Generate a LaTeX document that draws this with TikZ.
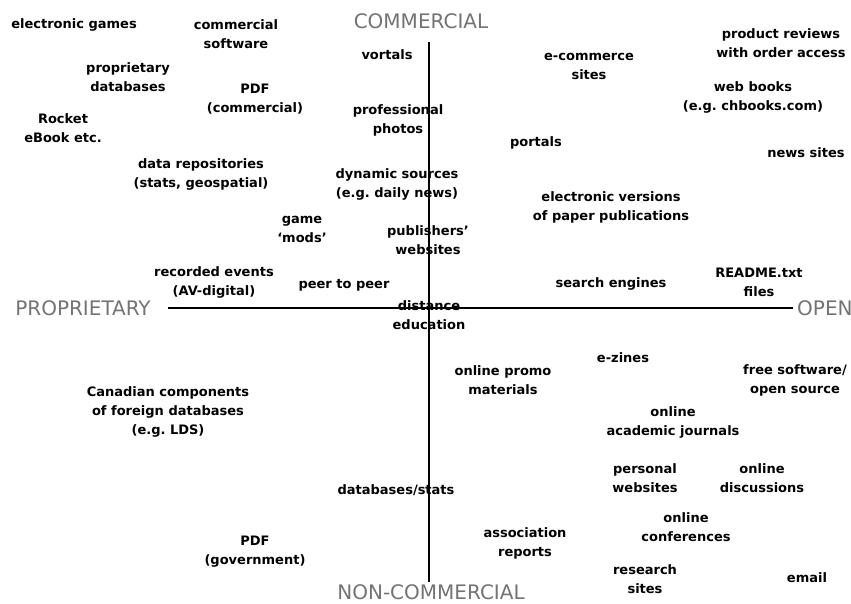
\documentclass[tikz,border=0pt]{standalone}
\usepackage{fontspec}
\setmainfont{DejaVu Sans}

\begin{document}
\begin{tikzpicture}[x=1pt,y=-1pt,
    item/.style={font=\bfseries\fontsize{13}{19}\selectfont,align=center,inner sep=1pt},
    axislabel/.style={font=\fontsize{20}{24}\selectfont,text=black!55,inner sep=1pt},
    axis/.style={line width=1.6pt}]
\useasboundingbox (0,0) rectangle (851,603);

% axis labels
\node[axislabel] (comm)    at (421,21)  {COMMERCIAL};
\node[axislabel] (noncomm) at (431,592) {NON-COMMERCIAL};
\node[axislabel] (prop)    at (83,308)  {PROPRIETARY};
\node[axislabel,anchor=west] (open) at (796,308) {OPEN};
\coordinate (o) at (429,308);

\draw[axis,shorten <=16pt,shorten >=3pt] (prop) -- (open);
\draw[axis,shorten <=12pt,shorten >=1pt] (comm.south -| o) -- (noncomm.north -| o);

% proprietary / commercial
\node[item] (elgames)  at (74,25)   {electronic games};
\node[item] (comsoft)  at (236,34)  {commercial\\software};
\node[item] (propdb)   at (128,77)  {proprietary\\databases};
\node[item] (pdfcom)   at (255,99)  {PDF\\(commercial)};
\node[item] (rocket)   at (63,128)  {Rocket\\eBook etc.};
\node[item] (datarep)  at (201,174) {data repositories\\(stats, geospatial)};
\node[item] (vortals)  at (387,55)  {vortals};
\node[item] (profph)   at (398,120) {professional\\photos};
\node[item] (dynsrc)   at (397,184) {dynamic sources\\(e.g.\ daily news)};
\node[item] (game)     at (302,229) {game\\`mods'};
\node[item] (pubweb)   at (428,240) {publishers'\\websites};
\node[item] (recev)    at (214,282) {recorded events\\(AV-digital)};
\node[item] (ptop)     at (344,285) {peer to peer};
\node[item] (disted)   at (429,315) {distance\\education};

% open / commercial
\node[item] (ecom)     at (589,66)  {e-commerce\\sites};
\node[item] (portals)  at (536,143) {portals};
\node[item] (prodrev)  at (781,43)  {product reviews\\with order access};
\node[item] (webbooks) at (753,97)  {web books\\(e.g.\ chbooks.com)};
\node[item] (news)     at (806,153) {news sites};
\node[item] (elvers)   at (611,207) {electronic versions\\of paper publications};
\node[item] (search)   at (611,284) {search engines};
\node[item] (readme)   at (759,282) {README.txt\\files};

% open / non-commercial
\node[item] (ezines)   at (623,358) {e-zines};
\node[item] (promo)    at (503,380) {online promo\\materials};
\node[item] (freesw)   at (795,380) {free software/\\open source};
\node[item] (acad)     at (673,422) {online\\academic journals};
\node[item] (personal) at (645,478) {personal\\websites};
\node[item] (discuss)  at (762,478) {online\\discussions};
\node[item] (assoc)    at (525,543) {association\\reports};
\node[item] (confs)    at (686,527) {online\\conferences};
\node[item] (research) at (645,579) {research\\sites};
\node[item] (email)    at (807,578) {email};

% proprietary / non-commercial
\node[item] (canad)    at (168,412) {Canadian components\\of foreign databases\\(e.g.\ LDS)};
\node[item] (dbstats)  at (396,490) {databases/stats};
\node[item] (pdfgov)   at (255,552) {PDF\\(government)};
\end{tikzpicture}
\end{document}
